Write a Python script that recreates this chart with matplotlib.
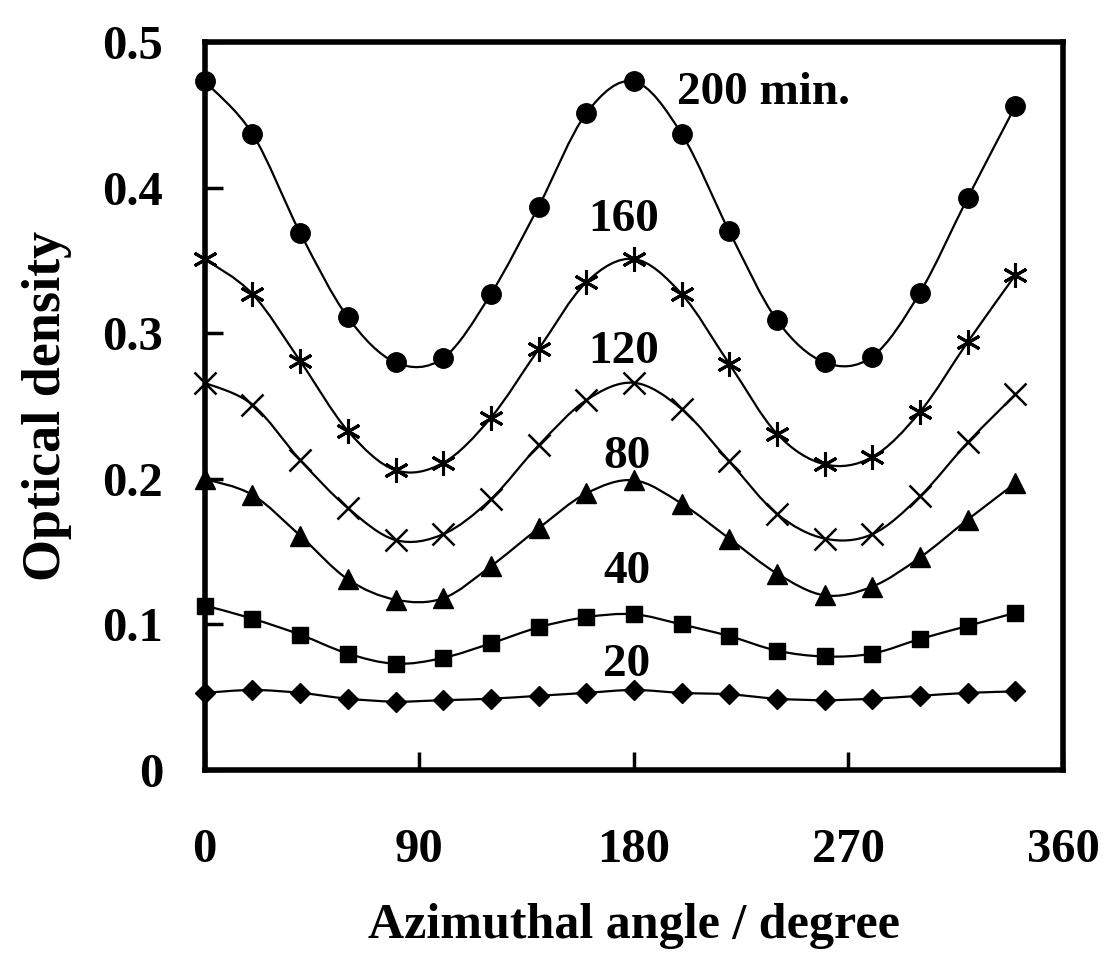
import numpy as np
import matplotlib
matplotlib.use("Agg")
import matplotlib.pyplot as plt
from matplotlib.path import Path
from matplotlib.patches import PathPatch

plt.rcParams["font.family"] = ["Liberation Serif", "DejaVu Serif"]
plt.rcParams["font.weight"] = "bold"

# azimuthal angle (deg) and optical density per exposure time
angle = [0, 20, 40, 60, 80, 100, 120, 140, 160, 180, 200, 220, 240, 260, 280, 300, 320, 340]
od_200 = [0.473, 0.437, 0.369, 0.311, 0.280, 0.283, 0.327, 0.387, 0.451,
          0.473, 0.437, 0.370, 0.309, 0.280, 0.284, 0.328, 0.393, 0.456]
od_160 = [0.351, 0.327, 0.281, 0.233, 0.206, 0.211, 0.242, 0.289, 0.335,
          0.351, 0.327, 0.279, 0.231, 0.210, 0.215, 0.246, 0.294, 0.340]
od_120 = [0.266, 0.251, 0.213, 0.180, 0.158, 0.162, 0.186, 0.223, 0.254,
          0.266, 0.248, 0.212, 0.176, 0.159, 0.162, 0.188, 0.225, 0.258]
od_80 = [0.200, 0.189, 0.161, 0.131, 0.117, 0.118, 0.140, 0.166, 0.190,
         0.199, 0.183, 0.159, 0.135, 0.120, 0.126, 0.146, 0.172, 0.197]
od_40 = [0.113, 0.104, 0.093, 0.080, 0.073, 0.077, 0.087, 0.098, 0.105,
         0.107, 0.100, 0.092, 0.082, 0.078, 0.080, 0.090, 0.099, 0.108]
od_20 = [0.053, 0.055, 0.053, 0.049, 0.047, 0.048, 0.049, 0.051, 0.053,
         0.055, 0.053, 0.052, 0.049, 0.048, 0.049, 0.051, 0.053, 0.054]

labels = ["200 min.", "160", "120", "80", "40", "20"]
label_pos = [(198, 0.465), (161, 0.378), (161, 0.287), (167, 0.215), (167, 0.136), (167, 0.072)]


def smooth_path(x, y):
    # Catmull-Rom style bezier through the points (Excel "smoothed line")
    p = np.column_stack([x, y]).astype(float)
    n = len(p)
    verts = [p[0]]
    codes = [Path.MOVETO]
    for i in range(n - 1):
        p0 = p[max(i - 1, 0)]
        p1 = p[i]
        p2 = p[i + 1]
        p3 = p[min(i + 2, n - 1)]
        verts += [p1 + (p2 - p0) / 6, p2 - (p3 - p1) / 6, p2]
        codes += [Path.CURVE4] * 3
    return Path(verts, codes)


fig = plt.figure(figsize=(11.19, 9.68), dpi=100)
ax = fig.add_axes([0.183, 0.2045, 0.767, 0.752])

series = [
    (od_200, dict(marker="o", ms=14)),
    (od_160, dict(marker=(6, 2, 0), ms=18, mew=2.2)),
    (od_120, dict(marker="x", ms=16, mew=1.8)),
    (od_80, dict(marker="^", ms=14)),
    (od_40, dict(marker="s", ms=12)),
    (od_20, dict(marker="D", ms=10)),
]
for vals, mk in series:
    ax.add_patch(PathPatch(smooth_path(angle, vals), fill=False, lw=1.6, ec="black"))
    ax.plot(angle, vals, ls="none", color="black", mfc="black", mec="black",
            clip_on=False, zorder=3, **mk)

for txt, (x, y) in zip(labels, label_pos):
    ax.text(x, y, txt, ha="left", va="center", fontsize=34, fontweight="bold")

ax.set_xlim(0, 360)
ax.set_ylim(0, 0.5)
ax.set_xticks([0, 90, 180, 270, 360])
ax.set_xticklabels(["0", "90", "180", "270", "360"])
ax.set_yticks([0, 0.1, 0.2, 0.3, 0.4, 0.5])
ax.set_yticklabels(["0", "0.1", "0.2", "0.3", "0.4", "0.5"])
ax.tick_params(direction="in", length=13, width=2.5, labelsize=35)
ax.tick_params(axis="x", pad=42)
ax.tick_params(axis="y", pad=30)
for s in ax.spines.values():
    s.set_linewidth(4)

ax.set_xlabel("Azimuthal angle / degree", fontsize=36, fontweight="bold", labelpad=22)
ax.set_ylabel("Optical density", fontsize=39, fontweight="bold", labelpad=22)

fig.savefig("out.png", dpi=100)
